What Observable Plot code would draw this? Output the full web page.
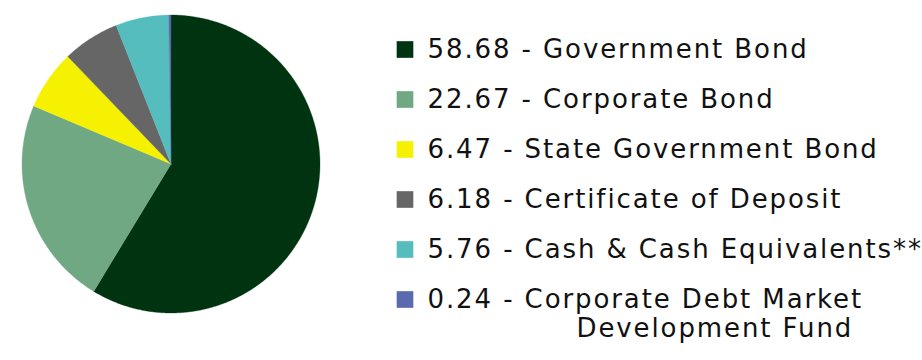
<!DOCTYPE html>
<html>
<head>
<meta charset="utf-8">
<script src="https://cdn.jsdelivr.net/npm/d3@7"></script>
<script src="https://cdn.jsdelivr.net/npm/@observablehq/plot@0.6"></script>
<style>
  html, body { margin: 0; padding: 0; background: #fff; }
  #wrap { position: relative; width: 922px; height: 360px; overflow: hidden; }
  #pie { position: absolute; left: 0; top: 0; }
  #legend { position: absolute; left: 396px; top: 0; }
</style>
</head>
<body>
<div id="wrap"><div id="pie"></div><div id="legend"></div></div>
<script>
const categories = [
  "Government Bond",
  "Corporate Bond",
  "State Government Bond",
  "Certificate of Deposit",
  "Cash & Cash Equivalents**",
  "Corporate Debt Market"
];
const continuation = ["", "", "", "", "", "Development Fund"];
const values = [58.68, 22.67, 6.47, 6.18, 5.76, 0.24];
const colors = ["#00330f", "#70a883", "#f6f100", "#666666", "#55bdbd", "#5b6aae"];

const data = categories.map((name, i) => ({name, value: values[i], color: colors[i], cont: continuation[i]}));

// pie geometry from values (d3.pie), clockwise from 12 o'clock
const arcs = d3.pie().sort(null).value(d => d.value)(data);
const poly = [];
for (const a of arcs) {
  poly.push({name: a.data.name, x: 0, y: 0});
  const n = Math.max(2, Math.ceil((a.endAngle - a.startAngle) / 0.01));
  for (let k = 0; k <= n; k++) {
    const t = a.startAngle + (a.endAngle - a.startAngle) * k / n;
    poly.push({name: a.data.name, x: Math.sin(t), y: Math.cos(t)});
  }
  poly.push({name: a.data.name, x: 0, y: 0});
}

const pie = Plot.plot({
  width: 340, height: 360,
  margin: 0,
  x: {domain: [-1, 1], range: [21.5, 319.5], axis: null},
  y: {domain: [-1, 1], range: [312.5, 14.5], axis: null},
  color: {domain: categories, range: colors},
  marks: [
    Plot.line(poly, {x: "x", y: "y", z: "name", fill: "name", stroke: "name", strokeWidth: 0.3, curve: "linear"})
  ]
});
document.getElementById("pie").appendChild(pie);

const legend = Plot.plot({
  width: 526, height: 360,
  margin: 0,
  y: {type: "point", domain: categories, range: [49, 299], padding: 0, axis: null},
  color: {domain: categories, range: colors},
  style: {fontFamily: "'DejaVu Sans', sans-serif", color: "#111", letterSpacing: "1.9px"},
  marks: [
    Plot.dot(data, {y: "name", frameAnchor: "left", dx: 8.5, symbol: "square", r: 9.4, fill: "name", stroke: null}),
    Plot.text(data, {y: "name", text: d => `${d.value.toFixed(2)} - ${d.name}`, frameAnchor: "left", dx: 31, textAnchor: "start", lineAnchor: "middle", fontSize: 26, fill: "#111"}),
    Plot.text(data.filter(d => d.cont), {y: "name", text: "cont", frameAnchor: "left", dx: 180, dy: 29, textAnchor: "start", lineAnchor: "middle", fontSize: 26, fill: "#111"})
  ]
});
document.getElementById("legend").appendChild(legend);
</script>
</body>
</html>
